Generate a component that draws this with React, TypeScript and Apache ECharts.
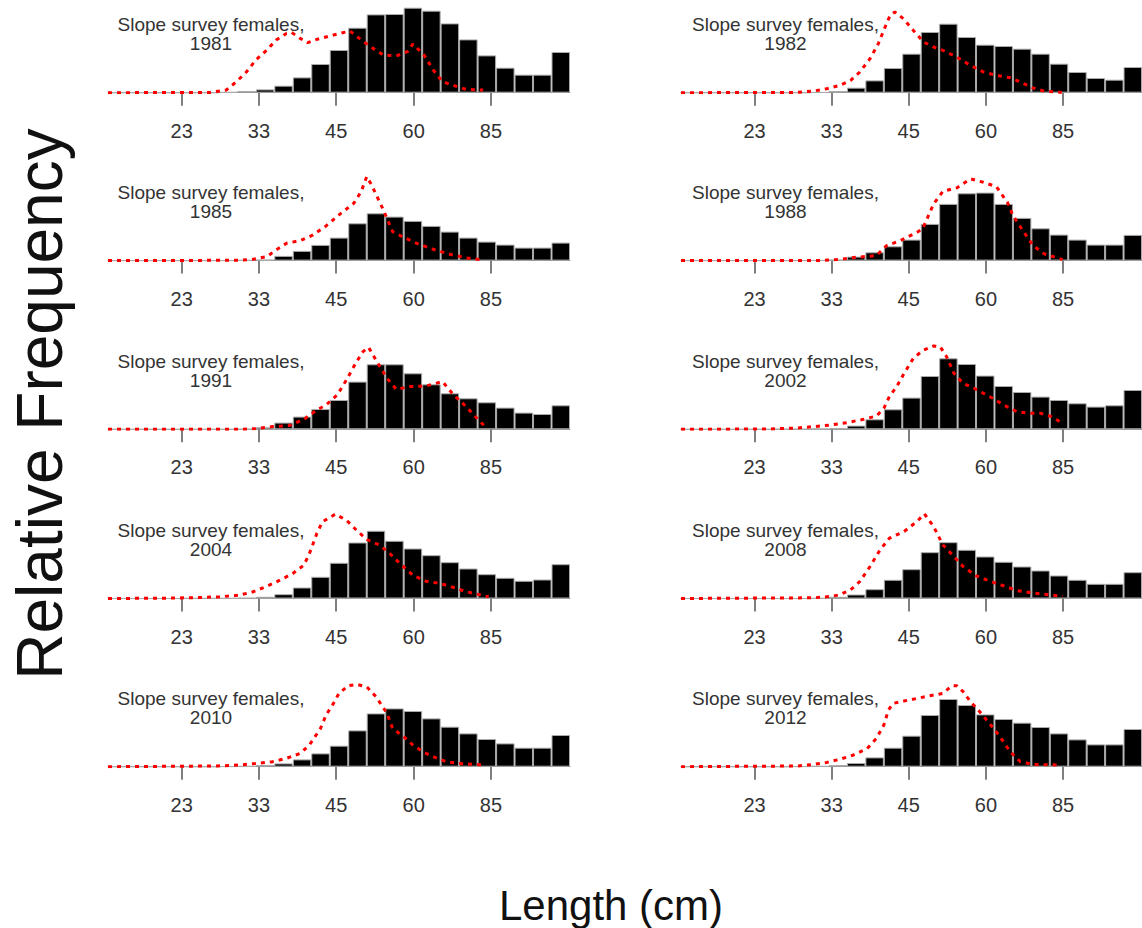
import React, { useEffect, useRef } from 'react';
import * as echarts from 'echarts';

const W = 1142;
const H = 928;

// Panel years (survey)
const years = ['1981', '1982', '1985', '1988', '1991', '2002', '2004', '2008', '2010', '2012'];
const titlePrefix = 'Slope survey females,';

// x-axis tick positions (in length-bin units, 25 bins) and their labels
const tickPos = [3.99, 8.17, 12.35, 16.54, 20.72];
const tickLabels = ['23', '33', '45', '60', '85'];
const nBins = 25;

// observed relative frequency per length bin (bars)
const freq1981 = [0, 0, 0, 0, 0, 0, 0.0007, 0.0017, 0.0033, 0.007, 0.0153, 0.0287, 0.0427, 0.065, 0.0783, 0.0787, 0.085, 0.082, 0.0693, 0.0533, 0.0373, 0.025, 0.018, 0.018, 0.0407];
const freq1982 = [0, 0, 0, 0, 0, 0, 0, 0.0005, 0.0017, 0.005, 0.0123, 0.0247, 0.039, 0.0607, 0.069, 0.0557, 0.048, 0.0467, 0.044, 0.039, 0.029, 0.0207, 0.0147, 0.013, 0.0257];
const freq1985 = [0, 0, 0, 0, 0, 0, 0, 0.0005, 0.001, 0.0047, 0.0097, 0.0157, 0.023, 0.0373, 0.0473, 0.044, 0.0397, 0.0347, 0.029, 0.023, 0.019, 0.016, 0.013, 0.013, 0.018];
const freq1988 = [0, 0, 0, 0, 0, 0, 0, 0.0003, 0.001, 0.004, 0.0083, 0.0143, 0.021, 0.0367, 0.0567, 0.0673, 0.068, 0.0567, 0.0427, 0.0323, 0.026, 0.021, 0.016, 0.016, 0.0257];
const freq1991 = [0, 0, 0, 0, 0, 0, 0, 0.0003, 0.002, 0.0067, 0.0127, 0.0203, 0.0293, 0.0477, 0.065, 0.065, 0.056, 0.045, 0.036, 0.031, 0.027, 0.0217, 0.0167, 0.0153, 0.024];
const freq2002 = [0, 0, 0, 0, 0, 0.0003, 0.0003, 0.0007, 0.0013, 0.0037, 0.01, 0.02, 0.0317, 0.0533, 0.071, 0.0653, 0.0537, 0.0433, 0.0373, 0.0327, 0.0293, 0.026, 0.0227, 0.024, 0.0393];
const freq2004 = [0, 0, 0, 0, 0.0003, 0.0003, 0.0003, 0.0007, 0.0017, 0.0043, 0.011, 0.0217, 0.0357, 0.056, 0.0677, 0.0577, 0.05, 0.0433, 0.0363, 0.03, 0.0243, 0.0207, 0.0177, 0.019, 0.0343];
const freq2008 = [0, 0, 0, 0, 0, 0, 0, 0.0003, 0.0017, 0.004, 0.0093, 0.0187, 0.0293, 0.0463, 0.0563, 0.0487, 0.042, 0.0367, 0.032, 0.028, 0.023, 0.0187, 0.0147, 0.0147, 0.0263];
const freq2010 = [0, 0, 0, 0, 0, 0, 0.0003, 0.0007, 0.0017, 0.0033, 0.0073, 0.0133, 0.021, 0.0363, 0.0533, 0.0583, 0.0557, 0.0483, 0.04, 0.0333, 0.0277, 0.0233, 0.019, 0.019, 0.0317];
const freq2012 = [0, 0, 0, 0, 0, 0, 0.0003, 0.0007, 0.0017, 0.0037, 0.0093, 0.019, 0.031, 0.0517, 0.0677, 0.0617, 0.0523, 0.0477, 0.044, 0.0397, 0.0333, 0.0273, 0.0223, 0.0223, 0.0377];

// expected (model) curves: [bin position, relative frequency]
const exp1981 = [[0, 0], [5.5, 0.0003], [6.4, 0.0027], [6.95, 0.011], [7.5, 0.021], [8.0, 0.0327], [8.6, 0.0427], [9.1, 0.0527], [9.66, 0.0593], [9.93, 0.0603], [10.4, 0.0543], [10.8, 0.05], [11.3, 0.0533], [12.2, 0.0577], [13.1, 0.0617], [13.6, 0.0543], [14.2, 0.046], [14.9, 0.0377], [15.6, 0.0367], [16.2, 0.041], [16.5, 0.0487], [17.1, 0.0377], [17.6, 0.0227], [18.1, 0.011], [18.9, 0.006], [19.4, 0.0033], [20.3, 0.0027]];
const exp1982 = [[0, 0], [6.3, 0.0003], [7.2, 0.0017], [7.9, 0.004], [8.6, 0.0073], [9.2, 0.0123], [9.7, 0.0207], [10.25, 0.034], [10.7, 0.049], [11.07, 0.0657], [11.34, 0.0773], [11.6, 0.0807], [12.06, 0.074], [12.6, 0.0623], [13.15, 0.0507], [13.7, 0.0457], [14.2, 0.0423], [14.95, 0.0357], [15.7, 0.0273], [16.4, 0.0207], [17.1, 0.0173], [17.85, 0.015], [18.4, 0.0107], [19.1, 0.0047], [19.66, 0.0017], [20.65, 0.0003]];
const exp1985 = [[0, 0], [7.1, 0.0003], [7.85, 0.0013], [8.6, 0.004], [9.1, 0.0107], [9.66, 0.0173], [10.4, 0.02], [11.1, 0.0257], [11.8, 0.0347], [12.5, 0.0457], [13.3, 0.0573], [13.7, 0.069], [14.0, 0.084], [14.26, 0.0757], [14.9, 0.0507], [15.4, 0.029], [16.0, 0.0233], [16.7, 0.0173], [17.6, 0.0113], [18.5, 0.0063], [19.4, 0.0027], [20.3, 0.0007]];
const exp1988 = [[0, 0], [7.5, 0], [8.45, 0.001], [9.5, 0.0033], [10.6, 0.005], [11.15, 0.015], [11.9, 0.02], [12.8, 0.0283], [13.1, 0.0317], [13.7, 0.0567], [14.2, 0.0693], [14.95, 0.0727], [15.7, 0.0817], [16.4, 0.0783], [17.1, 0.074], [17.7, 0.0583], [18.0, 0.045], [18.6, 0.0283], [19.1, 0.015], [19.7, 0.0067], [20.7, 0.001]];
const exp1991 = [[0, 0], [7.1, 0], [8.0, 0.0007], [8.9, 0.0027], [9.8, 0.0037], [10.6, 0.01], [11.3, 0.0193], [11.8, 0.0243], [12.4, 0.0343], [12.9, 0.0493], [13.4, 0.066], [13.8, 0.0777], [14.1, 0.082], [14.5, 0.0693], [15.1, 0.051], [15.6, 0.04], [16.3, 0.0427], [17.2, 0.0433], [18.1, 0.0477], [18.7, 0.0343], [19.2, 0.026], [19.8, 0.0143], [20.4, 0.0027]];
const exp2002 = [[0, 0], [4.8, 0.0003], [6.3, 0.0013], [7.2, 0.0027], [8.1, 0.0043], [9.0, 0.0067], [9.9, 0.01], [10.6, 0.0133], [11.0, 0.021], [11.3, 0.0327], [11.7, 0.0427], [12.1, 0.056], [12.6, 0.071], [13.1, 0.0787], [13.7, 0.0833], [14.05, 0.0827], [14.4, 0.0727], [14.8, 0.056], [15.3, 0.046], [15.9, 0.041], [16.4, 0.036], [16.9, 0.031], [17.5, 0.0243], [18.2, 0.0177], [18.9, 0.016], [19.5, 0.016], [20.0, 0.0133], [20.4, 0.0093], [20.7, 0.005]];
const exp2004 = [[0, 0], [3.2, 0.0003], [5.0, 0.001], [6.05, 0.0017], [7.1, 0.0033], [7.85, 0.0067], [8.6, 0.0123], [9.3, 0.0183], [10.0, 0.025], [10.6, 0.0333], [10.9, 0.045], [11.3, 0.065], [11.6, 0.0767], [12.3, 0.0843], [12.9, 0.0783], [13.45, 0.0683], [14.0, 0.059], [14.7, 0.0533], [15.25, 0.045], [15.8, 0.035], [16.5, 0.0233], [17.2, 0.0173], [18.0, 0.015], [18.7, 0.011], [19.4, 0.0067], [20.6, 0.0017]];
const exp2008 = [[0, 0], [7.2, 0.0007], [8.1, 0.002], [8.6, 0.0037], [9.2, 0.0087], [9.7, 0.017], [10.25, 0.032], [10.8, 0.0487], [11.3, 0.0603], [12.1, 0.067], [12.8, 0.077], [13.2, 0.0847], [13.7, 0.072], [14.2, 0.0537], [14.8, 0.042], [15.3, 0.032], [16.0, 0.0227], [16.8, 0.017], [17.5, 0.0127], [18.2, 0.008], [18.9, 0.006], [19.7, 0.0043], [20.7, 0.002]];
const exp2010 = [[0, 0], [5.9, 0.0007], [7.1, 0.0017], [8.0, 0.0033], [8.9, 0.005], [9.65, 0.0083], [10.4, 0.0133], [10.9, 0.0217], [11.5, 0.0383], [11.8, 0.0517], [12.2, 0.0633], [12.5, 0.0733], [13.0, 0.081], [13.45, 0.0823], [14.0, 0.08], [14.5, 0.07], [15.1, 0.0533], [15.4, 0.0383], [16.0, 0.03], [16.5, 0.0217], [17.1, 0.0143], [17.6, 0.01], [18.3, 0.005], [19.0, 0.0033], [20.3, 0.0017]];
const exp2012 = [[0, 0], [6.3, 0.0007], [7.2, 0.0023], [7.9, 0.0043], [8.6, 0.0073], [9.35, 0.0117], [10.1, 0.0183], [10.6, 0.0283], [11.0, 0.0417], [11.25, 0.0567], [11.5, 0.0633], [12.1, 0.0657], [12.8, 0.0683], [13.5, 0.071], [14.2, 0.0733], [14.7, 0.081], [14.95, 0.081], [15.3, 0.075], [15.7, 0.065], [16.2, 0.055], [16.8, 0.0417], [17.3, 0.03], [17.85, 0.015], [18.4, 0.005], [19.1, 0.0023], [20.6, 0.0017]];

const observed = [freq1981, freq1982, freq1985, freq1988, freq1991, freq2002, freq2004, freq2008, freq2010, freq2012];
const expected = [exp1981, exp1982, exp1985, exp1988, exp1991, exp2002, exp2004, exp2008, exp2010, exp2012];

const FONT = "'Liberation Sans', Arial, Helvetica, sans-serif";

export default function App() {
  const ref = useRef<HTMLDivElement>(null);

  useEffect(() => {
    if (!ref.current) return;
    const chart = echarts.init(ref.current, null, { renderer: 'svg' });

    const colLeft = [108, 681];
    const colWidth = [462, 461];
    const rowBase = [92.7, 260.6, 429.3, 598.5, 766.7];
    const plotH = 90;
    const yMax = 0.09;
    const titleX = [211, 785.5];

    const grids: any[] = [];
    const xAxes: any[] = [];
    const yAxes: any[] = [];
    const series: any[] = [];
    const graphics: any[] = [];

    years.forEach((yr, i) => {
      const col = i % 2;
      const row = Math.floor(i / 2);
      const base = rowBase[row];
      grids.push({ left: colLeft[col], width: colWidth[col], top: base - plotH, height: plotH, containLabel: false });
      xAxes.push({
        type: 'value', gridIndex: i, min: 0, max: nBins,
        splitLine: { show: false },
        axisLine: { show: true, lineStyle: { color: '#999', width: 1 } },
        axisTick: { show: true, customValues: tickPos, length: 13, lineStyle: { color: '#555', width: 1.5 } },
        axisLabel: {
          show: true, customValues: tickPos, margin: 28, fontSize: 20, color: '#333', fontFamily: FONT,
          formatter: (v: number) => {
            const k = tickPos.findIndex((p) => Math.abs(p - v) < 1e-6);
            return k >= 0 ? tickLabels[k] : '';
          },
        },
      });
      yAxes.push({ type: 'value', gridIndex: i, min: 0, max: yMax, show: false, splitLine: { show: false } });
      series.push({
        type: 'bar', xAxisIndex: i, yAxisIndex: i,
        data: observed[i].map((v, k) => [k + 0.5, v]),
        barWidth: colWidth[col] / nBins,
        itemStyle: { color: '#000', borderColor: '#aaa', borderWidth: 1 },
        z: 2,
      });
      series.push({
        type: 'line', xAxisIndex: i, yAxisIndex: i,
        data: expected[i],
        showSymbol: false, symbol: 'none',
        lineStyle: { color: '#ff0000', width: 3, type: [4, 5] },
        z: 3,
      });
      graphics.push({
        type: 'text', x: titleX[col], y: base - 68, z: 10,
        style: { text: titlePrefix, fontSize: 19, fontFamily: FONT, fill: '#333', align: 'center', verticalAlign: 'middle' },
      });
      graphics.push({
        type: 'text', x: titleX[col], y: base - 49, z: 10,
        style: { text: yr, fontSize: 19, fontFamily: FONT, fill: '#333', align: 'center', verticalAlign: 'middle' },
      });
    });

    graphics.push({
      type: 'text', x: 40, y: 404, rotation: Math.PI / 2,
      style: { text: 'Relative Frequency', fontSize: 64, fontFamily: FONT, fill: '#111', align: 'center', verticalAlign: 'middle' },
    });
    graphics.push({
      type: 'text', x: 611, y: 905,
      style: { text: 'Length (cm)', fontSize: 42, fontFamily: FONT, fill: '#111', align: 'center', verticalAlign: 'middle' },
    });

    chart.setOption({
      animation: false,
      backgroundColor: '#fff',
      grid: grids,
      xAxis: xAxes,
      yAxis: yAxes,
      series,
      graphic: graphics,
    });

    return () => chart.dispose();
  }, []);

  return <div ref={ref} style={{ position: 'absolute', left: 0, top: 0, width: W, height: H }} />;
}
